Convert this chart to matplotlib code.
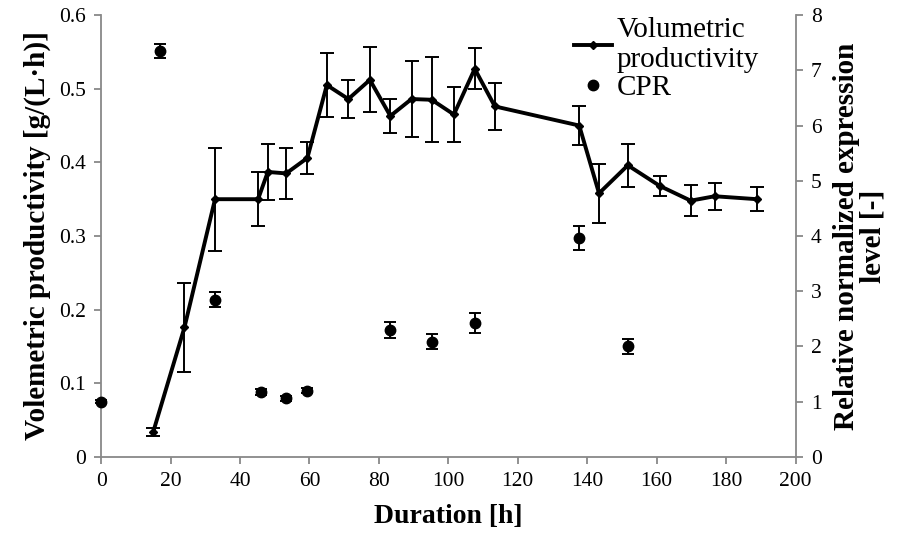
import matplotlib
matplotlib.use("Agg")
import matplotlib.pyplot as plt
from matplotlib.lines import Line2D

# Volumetric productivity (left axis)
vp_time = [15, 24, 32.8, 45.2, 48, 53.3, 59.4, 65, 71.2, 77.4, 83.3, 89.4, 95.2,
           101.6, 107.6, 113.4, 137.7, 143.4, 151.7, 160.9, 169.8, 176.7, 188.9]
vp_value = [0.034, 0.176, 0.350, 0.350, 0.387, 0.385, 0.406, 0.505, 0.486, 0.512,
            0.463, 0.486, 0.485, 0.465, 0.527, 0.476, 0.450, 0.358, 0.396, 0.368,
            0.348, 0.354, 0.350]
vp_err = [0.006, 0.060, 0.070, 0.037, 0.038, 0.035, 0.022, 0.043, 0.026, 0.044,
          0.023, 0.052, 0.058, 0.038, 0.028, 0.032, 0.026, 0.040, 0.029, 0.013,
          0.021, 0.018, 0.016]

# CPR (right axis)
cpr_time = [0, 17, 32.9, 46.1, 53.3, 59.4, 83.3, 95.3, 107.6, 137.7, 151.7]
cpr_value = [1.0, 7.35, 2.85, 1.18, 1.06, 1.20, 2.30, 2.09, 2.42, 3.96, 2.0]
cpr_err = [0.03, 0.12, 0.14, 0.05, 0.04, 0.05, 0.14, 0.13, 0.18, 0.22, 0.14]

x_ticks = list(range(0, 201, 20))
left_ticks = [0, 0.1, 0.2, 0.3, 0.4, 0.5, 0.6]
right_ticks = list(range(0, 9))

serif = ["Liberation Serif", "DejaVu Serif"]
plt.rcParams['font.family'] = serif
spine_col = "#888888"

fig = plt.figure(figsize=(9.03, 5.38), dpi=100)
ax = fig.add_axes([0.112, 0.1506, 0.769, 0.8214])
ax2 = ax.twinx()

ax.errorbar(vp_time, vp_value, yerr=vp_err, color="black", lw=2.8, marker="D",
            markersize=4.5, capsize=5, elinewidth=1.4, capthick=1.4, zorder=3)
ax2.errorbar(cpr_time, cpr_value, yerr=cpr_err, color="black", lw=0, marker="o",
             markersize=7.5, capsize=4, elinewidth=1.4, capthick=1.4,
             linestyle="none", clip_on=False, zorder=3)

ax.set_xlim(0, 200)
ax.set_ylim(0, 0.6)
ax2.set_ylim(0, 8)
ax.set_xticks(x_ticks)
ax.set_xticklabels([str(v) for v in x_ticks])
ax.set_yticks(left_ticks)
ax.set_yticklabels(["0" if v == 0 else f"{v:.1f}" for v in left_ticks])
ax2.set_yticks(right_ticks)
ax2.set_yticklabels([str(v) for v in right_ticks])

for a in (ax, ax2):
    a.spines['top'].set_visible(False)
    for s in ('left', 'right', 'bottom'):
        a.spines[s].set_color(spine_col)
        a.spines[s].set_linewidth(1.3)
    a.tick_params(direction='out', length=5, width=1.3, color=spine_col,
                  labelsize=15.5, labelcolor="black", pad=6)
ax.spines['right'].set_visible(False)
ax2.spines['left'].set_visible(False)
ax2.spines['bottom'].set_visible(False)

ax.set_xlabel("Duration [h]", fontsize=20, fontweight="bold", labelpad=9)
ax.set_ylabel("Volemetric productivity [g/(L·h)]", fontsize=21, fontweight="bold", labelpad=6)
ax2.set_ylabel("Relative normalized expression\nlevel [-]", fontsize=21,
               fontweight="bold", labelpad=8, linespacing=1.0)

handles = [Line2D([], [], color="black", lw=2.8, marker="D", markersize=4.5),
           Line2D([], [], color="black", lw=0, marker="o", markersize=7.5)]
ax.legend(handles, ["Volumetric\nproductivity", "CPR"], loc="upper right",
          bbox_to_anchor=(0.985, 1.055), frameon=False, fontsize=21,
          handlelength=1.3, handletextpad=0.15, labelspacing=0.05)

fig.savefig("out.png", dpi=100)
